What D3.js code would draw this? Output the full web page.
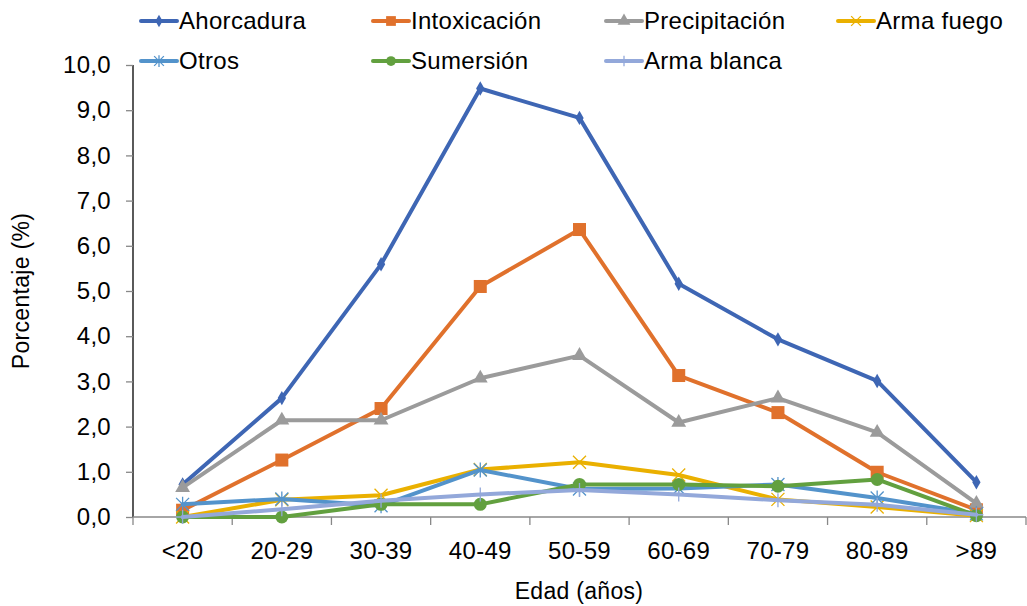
<!DOCTYPE html>
<html><head><meta charset="utf-8">
<script src="https://cdn.jsdelivr.net/npm/d3@7"></script>
<style>body{margin:0;background:#fff;} svg{display:block;} text{font-family:"Liberation Sans",Arial,sans-serif;letter-spacing:0.3px;}</style>
</head><body>
<svg id="c" width="1027" height="606"></svg>
<script>
const categories = ["<20","20-29","30-39","40-49","50-59","60-69","70-79","80-89",">89"];
const seriesNames = ["Ahorcadura","Intoxicación","Precipitación","Arma fuego","Otros","Sumersión","Arma blanca"];
const ahorcadura    = [0.72, 2.63, 5.59, 9.48, 8.83, 5.16, 3.93, 3.01, 0.77];
const intoxicacion  = [0.15, 1.26, 2.40, 5.10, 6.36, 3.13, 2.31, 0.99, 0.16];
const precipitacion = [0.65, 2.14, 2.14, 3.07, 3.57, 2.09, 2.63, 1.87, 0.30];
const armaFuego     = [0.00, 0.38, 0.48, 1.05, 1.21, 0.93, 0.39, 0.22, 0.03];
const otros         = [0.28, 0.40, 0.25, 1.04, 0.62, 0.63, 0.72, 0.42, 0.07];
const sumersion     = [0.00, 0.00, 0.28, 0.28, 0.72, 0.72, 0.68, 0.83, 0.03];
const armaBlanca    = [0.00, 0.17, 0.36, 0.50, 0.60, 0.50, 0.37, 0.27, 0.05];
const yTicks = [0,1,2,3,4,5,6,7,8,9,10];

const values = [ahorcadura,intoxicacion,precipitacion,armaFuego,otros,sumersion,armaBlanca];
const colors = ["#3E66B4","#E0712C","#9B9B9B","#EAB000","#5393CB","#62A03F","#93A8DA"];
const markers = ["diamond","square","triangle","x","asterisk","circle","plus"];

const svg = d3.select("#c");
const x = d3.scaleBand().domain(categories).range([133,1026]);
const y = d3.scaleLinear().domain([0,10]).range([517,65]);
const fs = 24;

// y axis
const ya = svg.append("g").attr("transform","translate(133,0)")
  .call(d3.axisLeft(y).tickValues(yTicks).tickSize(7).tickPadding(15).tickFormat(d=>d3.format(".1f")(d).replace(".",",")));
ya.select(".domain").attr("stroke","#000").attr("stroke-width",1.3).attr("d","M0,65V517");
ya.selectAll(".tick line").attr("stroke","#888").attr("stroke-width",1.3);
ya.selectAll(".tick text").attr("font-size",fs).attr("fill","#000").attr("font-family","Liberation Sans, Arial");

// x axis
const xa = svg.append("g").attr("transform","translate(0,517)")
  .call(d3.axisBottom(x).tickSize(0).tickPadding(25));
xa.select(".domain").attr("stroke","#888").attr("stroke-width",1.5).attr("d","M133,0H1026");
xa.selectAll(".tick text").attr("font-size",fs).attr("fill","#000").attr("font-family","Liberation Sans, Arial");
const bounds = categories.map(c=>x(c)).concat([x(categories[categories.length-1])+x.bandwidth()]);
xa.selectAll(".bt").data(bounds).enter().append("line")
  .attr("x1",d=>d).attr("x2",d=>d).attr("y1",0).attr("y2",8).attr("stroke","#888").attr("stroke-width",1.3);

// axis titles
svg.append("text").attr("transform","translate(29,291) rotate(-90)").attr("text-anchor","middle")
  .attr("font-size",fs-1).attr("fill","#000").text("Porcentaje (%)");
svg.append("text").attr("x",579).attr("y",599).attr("text-anchor","middle")
  .attr("font-size",fs-1).attr("fill","#000").text("Edad (años)");

function drawMarker(g, type, cx, cy, color, scale){
  const s = scale||1;
  if(type==="diamond"){
    g.append("path").attr("d",d3.symbol(d3.symbolDiamond, 60*s)()).attr("transform",`translate(${cx},${cy})`).attr("fill",color);
  } else if(type==="square"){
    const h=6.5*s; g.append("rect").attr("x",cx-h).attr("y",cy-h).attr("width",2*h).attr("height",2*h).attr("fill",color);
  } else if(type==="triangle"){
    g.append("path").attr("d",d3.symbol(d3.symbolTriangle, 95*s)()).attr("transform",`translate(${cx},${cy})`).attr("fill",color);
  } else if(type==="circle"){
    g.append("circle").attr("cx",cx).attr("cy",cy).attr("r",6.5*s).attr("fill",color);
  } else if(type==="x"){
    const h=6.5*s;
    g.append("path").attr("d",`M${cx-h},${cy-h}L${cx+h},${cy+h}M${cx-h},${cy+h}L${cx+h},${cy-h}`).attr("stroke",color).attr("stroke-width",1.3).attr("fill","none");
  } else if(type==="asterisk"){
    const h=6.5*s;
    g.append("path").attr("d",`M${cx-h},${cy-h}L${cx+h},${cy+h}M${cx-h},${cy+h}L${cx+h},${cy-h}M${cx},${cy-h-1}L${cx},${cy+h+1}`).attr("stroke",color).attr("stroke-width",1.3).attr("fill","none");
  } else if(type==="plus"){
    const h=7*s;
    g.append("path").attr("d",`M${cx},${cy-h}L${cx},${cy+h}M${cx-h},${cy}L${cx+h},${cy}`).attr("stroke",color).attr("stroke-width",1.3).attr("fill","none");
  }
}

const line = d3.line().x((d,i)=>x(categories[i])+x.bandwidth()/2).y(d=>y(d));
values.forEach((vals,k)=>{
  const g = svg.append("g");
  g.append("path").datum(vals).attr("d",line).attr("fill","none").attr("stroke",colors[k])
    .attr("stroke-width",4).attr("stroke-linejoin","round").attr("stroke-linecap","round");
  vals.forEach((v,i)=>drawMarker(g, markers[k], x(categories[i])+x.bandwidth()/2, y(v), colors[k]));
});

// legend
const legX = [141,373,606,838];
const legY = [21,61];
seriesNames.forEach((n,k)=>{
  const col = k<4 ? k : k-4;
  const row = k<4 ? 0 : 1;
  const lx = legX[col], ly = legY[row];
  const g = svg.append("g");
  g.append("line").attr("x1",lx).attr("x2",lx+36).attr("y1",ly).attr("y2",ly).attr("stroke",colors[k]).attr("stroke-width",4).attr("stroke-linecap","round");
  drawMarker(g, markers[k], lx+18, ly, colors[k], 0.75);
  g.append("text").attr("x",lx+38).attr("y",ly).attr("dy","0.35em").attr("font-size",fs).attr("fill","#000").text(n);
});
</script>
</body></html>
